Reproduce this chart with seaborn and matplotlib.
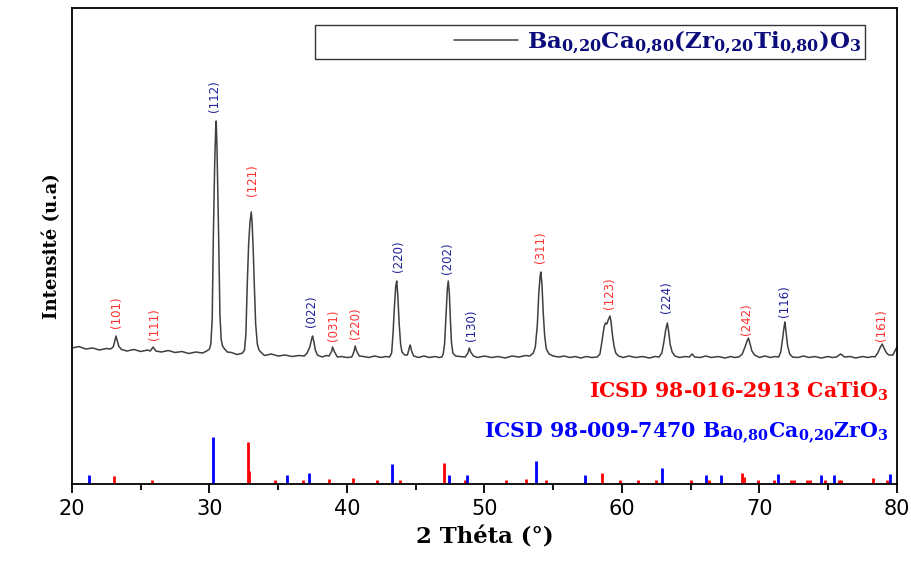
import numpy as np
import pandas as pd
import matplotlib
matplotlib.use("Agg")
import matplotlib.pyplot as plt
from matplotlib.legend_handler import HandlerLine2D
from matplotlib.ticker import MultipleLocator
import seaborn as sns

# ---------------- data ----------------
two_theta = [
    20.0, 20.5, 21.0, 21.5, 22.0, 22.5, 22.8, 23.0, 23.1, 23.2, 23.3, 23.4, 23.6,
    24.0, 24.5, 25.0, 25.5, 25.7, 25.9, 26.1, 26.5, 27.0, 27.5, 28.0, 28.5, 29.0,
    29.5, 29.8, 30.0, 30.1, 30.2, 30.28, 30.38, 30.46, 30.49, 30.55, 30.67, 30.76,
    30.85, 30.95, 31.1, 31.3, 31.6, 32.0, 32.3, 32.4, 32.55, 32.65, 32.75, 32.85,
    32.95, 33.0, 33.04, 33.1, 33.18, 33.26, 33.36, 33.48, 33.6, 33.8, 34.0, 34.5,
    35.0, 35.5, 36.0, 36.5, 36.9, 37.1, 37.3, 37.45, 37.5, 37.6, 37.7, 37.85, 38.2,
    38.5, 38.7, 38.9, 38.95, 39.1, 39.3, 39.6, 40.0, 40.35, 40.5, 40.6, 40.7, 40.9,
    41.2, 41.6, 42.0, 42.5, 42.8, 43.1, 43.25, 43.35, 43.45, 43.55, 43.62, 43.7,
    43.8, 43.9, 44.0, 44.2, 44.4, 44.55, 44.6, 44.7, 44.85, 45.2, 45.6, 46.0, 46.4,
    46.7, 46.9, 47.0, 47.1, 47.2, 47.3, 47.37, 47.45, 47.52, 47.6, 47.7, 47.9, 48.2,
    48.6, 48.8, 48.9, 49.0, 49.2, 49.5, 50.0, 50.5, 51.0, 51.5, 52.0, 52.5, 53.0,
    53.3, 53.55, 53.7, 53.85, 53.95, 54.05, 54.1, 54.18, 54.28, 54.38, 54.5, 54.7,
    55.0, 55.4, 55.8, 56.2, 56.6, 57.0, 57.4, 57.8, 58.2, 58.4, 58.55, 58.7, 58.8,
    58.9, 59.0, 59.13, 59.2, 59.3, 59.42, 59.55, 59.75, 60.1, 60.5, 61.0, 61.5,
    62.0, 62.4, 62.7, 62.9, 63.05, 63.18, 63.3, 63.4, 63.5, 63.65, 63.85, 64.2,
    64.6, 64.9, 65.1, 65.3, 65.7, 66.1, 66.5, 67.0, 67.5, 67.9, 68.2, 68.5, 68.75,
    68.95, 69.1, 69.2, 69.3, 69.45, 69.65, 70.0, 70.4, 70.8, 71.1, 71.4, 71.55,
    71.68, 71.8, 71.85, 71.93, 72.05, 72.2, 72.4, 72.8, 73.2, 73.6, 74.0, 74.5,
    75.0, 75.3, 75.6, 75.9, 76.2, 76.6, 77.0, 77.5, 77.9, 78.2, 78.4, 78.6, 78.8,
    78.93, 79.05, 79.25, 79.4, 79.7, 80.0,
]
intensity = [
    136, 137.5, 135, 136, 134, 135.5, 135, 137, 142, 148, 143, 138, 134.5,
    133, 134.5, 132.5, 134, 133, 137, 133, 132, 133.5, 131.5, 132.5, 130.5, 132,
    131, 133, 135, 140, 165, 245, 320, 358, 363, 335, 245, 170,
    145, 138, 135, 132, 131.5, 129.5, 130.5, 131, 134, 150, 200, 240,
    262, 268, 272, 262, 235, 200, 160, 140, 134, 131, 128.5, 130,
    128, 129, 127.5, 128.5, 128, 131, 137, 146, 148, 142, 134, 129, 127,
    128.5, 128, 133, 137, 132, 127, 127.5, 126.5, 127, 132, 138, 133, 128,
    127.5, 126.5, 128, 126.5, 127.5, 127, 131, 150, 177, 198, 203, 188,
    160, 140, 132, 129, 129, 137, 139, 133, 128, 126.5, 128, 126.5, 127.5,
    126.5, 127, 130, 140, 168, 195, 203, 190, 165, 142, 131, 128, 127.5,
    127, 131, 136, 132, 128, 126.5, 128, 126.5, 127.5, 126, 128, 127, 128.5,
    128, 131, 137, 160, 190, 208, 212, 200, 170, 148, 135, 130,
    128, 127, 128, 126.5, 127.5, 126, 127.5, 126.5, 127, 130, 143, 157, 161,
    160, 164, 168, 163, 150, 138, 131, 128, 126.5, 128, 126.5, 127.5,
    126, 127.5, 127, 131, 142, 154, 161, 152, 140, 132, 128, 126.5,
    127.5, 127, 130, 127, 126.5, 128, 126.5, 127.5, 126, 127.5, 126.5, 127, 130,
    137, 143, 146, 141, 133, 129, 126.5, 128, 126.5, 127.5, 127, 132,
    145, 158, 162, 152, 138, 130, 127, 126.5, 128, 126.5, 127.5, 126,
    127.5, 126.5, 127, 130, 127, 127.5, 126, 127.5, 126.5, 127.5, 127, 131, 137,
    140, 136, 131, 129, 129, 137,
]

# reference patterns (stick positions / relative heights)
catio3_pos = [23.03, 25.8, 32.77, 32.85, 34.79, 36.78, 38.67, 40.44, 42.16, 43.85,
              47.05, 48.56, 51.6, 53.0, 54.45, 58.57, 59.85, 61.19, 62.47, 65.0,
              66.3, 68.73, 68.9, 69.87, 71.05, 72.3, 72.5, 73.45, 73.65, 74.74,
              75.8, 75.95, 78.28, 79.3]
catio3_int = [8, 4, 42, 13, 4, 4, 5, 6, 4, 4,
              21, 4, 4, 5, 4, 11, 4, 4, 4, 4,
              4, 11, 7, 4, 4, 4, 4, 4, 4, 4,
              4, 4, 6, 4]
bcz_pos = [21.26, 30.25, 35.64, 37.26, 43.3, 47.4, 48.73, 53.72, 57.31, 62.9,
           66.13, 67.2, 71.37, 74.45, 75.44, 79.5]
bcz_int = [9, 47, 9, 11, 20, 9, 9, 23, 9, 16,
           9, 9, 10, 9, 9, 10]

# Miller-index annotations
hkl_labels = ["(101)", "(111)", "(112)", "(121)", "(022)", "(031)", "(220)", "(220)",
              "(202)", "(130)", "(311)", "(123)", "(224)", "(242)", "(116)", "(161)"]
hkl_phase = ["CaTiO3", "CaTiO3", "BCZ", "CaTiO3", "BCZ", "CaTiO3", "CaTiO3", "BCZ",
             "BCZ", "BCZ", "CaTiO3", "CaTiO3", "BCZ", "CaTiO3", "BCZ", "CaTiO3"]
hkl_x = [23.25, 26.0, 30.4, 33.16, 37.45, 39.0, 40.65, 43.78,
         47.34, 49.09, 54.11, 59.13, 63.27, 69.09, 71.85, 78.9]
hkl_y = [172, 160, 388, 304, 173, 159, 161, 228,
         226, 159, 237, 191, 187, 165, 183, 159]

# ---------------- styling ----------------
sns.set_style("ticks")
plt.rcParams["font.family"] = ["DejaVu Sans"]
plt.rcParams["mathtext.fontset"] = "dejavuserif"
plt.rcParams["text.color"] = "black"
plt.rcParams["axes.labelcolor"] = "black"
plt.rcParams["xtick.color"] = "black"

trace_color = "#3f3f3f"
red_stick = "#ff0000"
blue_stick = "#0000ff"
red_label = "#ff3030"
blue_label = "#20209c"
navy = "#0c0c7c"


class RightLineHandler(HandlerLine2D):
    """Draw the legend line only in the right part of the handle box."""
    def get_xdata(self, legend, xdescent, ydescent, width, height, fontsize):
        xdata = np.array([-xdescent + 0.68 * width, -xdescent + width])
        return xdata, np.array([-xdescent + 0.84 * width])


fig = plt.figure(figsize=(9.12, 5.63), dpi=100)
ax = fig.add_axes([0.0789, 0.1403, 0.9046, 0.8455])

df = pd.DataFrame({"two_theta": two_theta, "intensity": intensity})
sns.lineplot(data=df, x="two_theta", y="intensity", ax=ax, color=trace_color,
             linewidth=1.1, estimator=None,
             label=r"$\mathbf{Ba_{0{,}20}Ca_{0{,}80}(Zr_{0{,}20}Ti_{0{,}80})O_3}$")

ax.vlines(catio3_pos, 0, catio3_int, colors=red_stick, linewidth=2.0)
ax.vlines(bcz_pos, 0, bcz_int, colors=blue_stick, linewidth=2.0)

for lab, ph, x, y in zip(hkl_labels, hkl_phase, hkl_x, hkl_y):
    ax.text(x, y, lab, rotation=90, ha="center", va="center", fontsize=8.5,
            color=red_label if ph == "CaTiO3" else blue_label,
            family="DejaVu Sans")

ax.text(79.42, 86, r"ICSD 98-016-2913 CaTiO$_\mathbf{3}$", ha="right", va="baseline",
        fontsize=14.8, fontweight="bold", family="DejaVu Serif", color="#ff0000")
ax.text(79.42, 46.5,
        r"ICSD 98-009-7470 Ba$_\mathbf{0{,}80}$Ca$_\mathbf{0{,}20}$ZrO$_\mathbf{3}$",
        ha="right", va="baseline", fontsize=14.8, fontweight="bold",
        family="DejaVu Serif", color="#0000ff")

ax.set_xlim(20, 80)
ax.set_ylim(0, 476)
ax.set_yticks([])
ax.xaxis.set_major_locator(MultipleLocator(10))
ax.xaxis.set_minor_locator(MultipleLocator(5))
ax.tick_params(axis="x", which="major", direction="out", length=6.5, width=1.3,
               labelsize=15, pad=4, colors="black", bottom=True)
ax.tick_params(axis="x", which="minor", direction="out", length=4, width=1.3,
               colors="black", bottom=True)
for s in ax.spines.values():
    s.set_linewidth(1.3)
    s.set_color("black")
    s.set_visible(True)

ax.set_xlabel("2 Théta (°)", fontsize=16.4, fontweight="bold", family="DejaVu Serif",
              labelpad=6, color="black")
ax.set_ylabel("Intensité (u.a)", fontsize=13, fontweight="bold", family="DejaVu Serif",
              labelpad=8, color="black")

handles, labels = ax.get_legend_handles_labels()
leg = ax.legend(handles, labels, loc="upper right",
                bbox_to_anchor=((865 - 72) / 825, (484 - 25) / 476),
                borderaxespad=0, borderpad=0.15, handlelength=8.7, handletextpad=0.4,
                frameon=True, fancybox=False, framealpha=1, edgecolor="#333333",
                handler_map={type(handles[0]): RightLineHandler()},
                prop={"size": 16.5, "family": "DejaVu Serif", "weight": "bold"})
leg.get_frame().set_linewidth(1.0)
for t in leg.get_texts():
    t.set_color(navy)

fig.savefig("out.png", dpi=100)
